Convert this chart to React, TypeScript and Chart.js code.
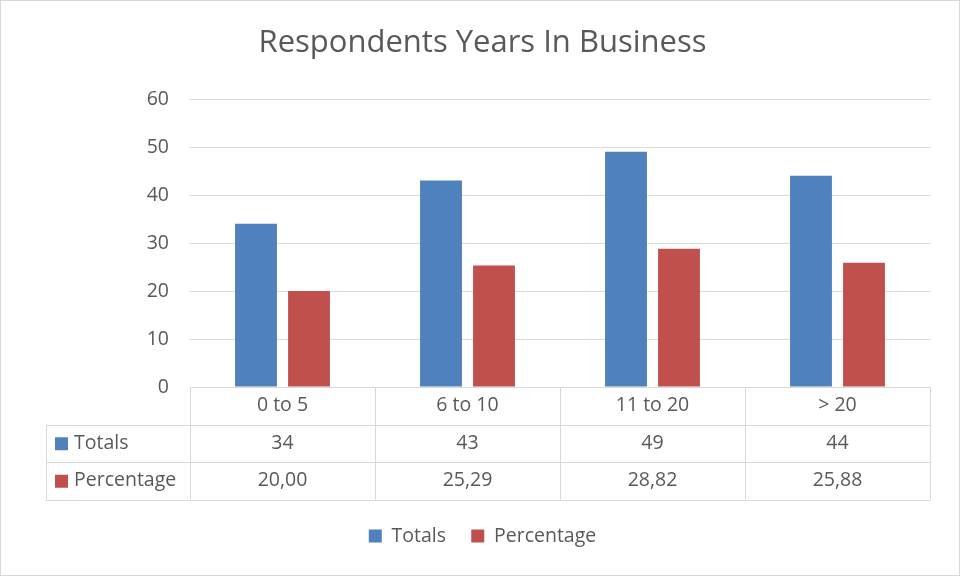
import React, { useEffect, useRef } from "react";
import { Chart, registerables } from "chart.js";

Chart.register(...registerables);

const categories = ["0 to 5", "6 to 10", "11 to 20", "> 20"];
const totals = [34, 43, 49, 44];
const percentage = [20.0, 25.29, 28.82, 25.88];
const totalsLabels = ["34", "43", "49", "44"];
const percentageLabels = ["20,00", "25,29", "28,82", "25,88"];
const seriesNames = ["Totals", "Percentage"];
const yTicks = [0, 10, 20, 30, 40, 50, 60];

const BLUE = "#4f81bd";
const RED = "#c0504d";
const GRID = "#d9d9d9";
const TEXT = "#595959";
const FONT = "'Open Sans', Lato, sans-serif";
const FS = 19.5;

const tablePlugin = {
  id: "dataTable",
  afterDraw(chart: any) {
    const ctx = chart.ctx;
    const area = chart.chartArea;
    const xs = chart.scales.x;
    const rowH = 37.5;
    const top = area.bottom;
    const left = area.left;
    const right = area.right;
    const labelLeft = 46;
    const n = categories.length;
    const step = (right - left) / n;
    ctx.save();
    ctx.strokeStyle = GRID;
    ctx.lineWidth = 1;
    ctx.beginPath();
    ctx.moveTo(left, Math.round(top) + 0.5);
    ctx.lineTo(right, Math.round(top) + 0.5);
    for (let r = 1; r <= 3; r++) {
      const y = Math.round(top + r * rowH) + 0.5;
      ctx.moveTo(labelLeft, y);
      ctx.lineTo(right, y);
    }
    for (let i = 0; i <= n; i++) {
      const x = Math.round(left + i * step) + 0.5;
      ctx.moveTo(x, top);
      ctx.lineTo(x, top + 3 * rowH);
    }
    ctx.moveTo(labelLeft + 0.5, top + rowH);
    ctx.lineTo(labelLeft + 0.5, top + 3 * rowH);
    ctx.stroke();

    ctx.fillStyle = TEXT;
    ctx.font = `${FS}px ${FONT}`;
    ctx.textAlign = "center";
    ctx.textBaseline = "middle";
    const rows = [categories, totalsLabels, percentageLabels];
    rows.forEach((row, r) => {
      const cy = top + r * rowH + rowH / 2;
      row.forEach((t, i) => {
        ctx.fillText(t, xs.getPixelForValue(i), cy);
      });
    });
    const colors = [BLUE, RED];
    ctx.textAlign = "left";
    seriesNames.forEach((name, k) => {
      const cy = top + (k + 1) * rowH + rowH / 2;
      ctx.fillStyle = colors[k];
      ctx.fillRect(55, cy - 6, 13, 13);
      ctx.fillStyle = TEXT;
      ctx.fillText(name, 74, cy);
    });
    ctx.strokeStyle = GRID;
    ctx.strokeRect(0.5, 0.5, chart.width - 2, chart.height - 2);
    ctx.restore();
  },
};

export default function App() {
  const ref = useRef<HTMLCanvasElement>(null);
  useEffect(() => {
    document.body.style.margin = "0";
    const chart = new Chart(ref.current!, {
      type: "bar",
      data: {
        labels: categories,
        datasets: [
          { label: seriesNames[0], data: totals, backgroundColor: BLUE },
          { label: seriesNames[1], data: percentage, backgroundColor: RED },
        ],
      },
      plugins: [tablePlugin],
      options: {
        animation: false,
        responsive: false,
        devicePixelRatio: 1,
        layout: { padding: { left: 35, right: 31, top: 0, bottom: 21.25 } },
        datasets: { bar: { categoryPercentage: 0.573, barPercentage: 0.79 } },
        scales: {
          x: {
            ticks: { display: false },
            grid: { display: false },
            border: { display: false },
            afterFit(scale: any) {
              scale.height = 114;
            },
          },
          y: {
            min: 0,
            max: 60,
            afterBuildTicks(scale: any) {
              scale.ticks = yTicks.map((v) => ({ value: v }));
            },
            ticks: { color: TEXT, font: { family: FONT, size: FS }, padding: 21 },
            grid: { color: GRID, drawTicks: false },
            border: { display: false },
            afterFit(scale: any) {
              scale.width = 155;
            },
          },
        },
        plugins: {
          title: {
            display: true,
            text: "Respondents Years In Business",
            color: TEXT,
            font: { family: FONT, size: 31, weight: "normal" },
            padding: { top: 25, bottom: 36.8 },
          },
          legend: {
            position: "bottom",
            labels: {
              color: TEXT,
              font: { family: FONT, size: FS },
              boxWidth: 13,
              boxHeight: 13,
              padding: 25.25,
            },
          },
          tooltip: { enabled: false },
        },
      },
    });
    return () => chart.destroy();
  }, []);
  return (
    <div style={{ width: 961, height: 577 }}>
      <canvas ref={ref} width={961} height={577} />
    </div>
  );
}
